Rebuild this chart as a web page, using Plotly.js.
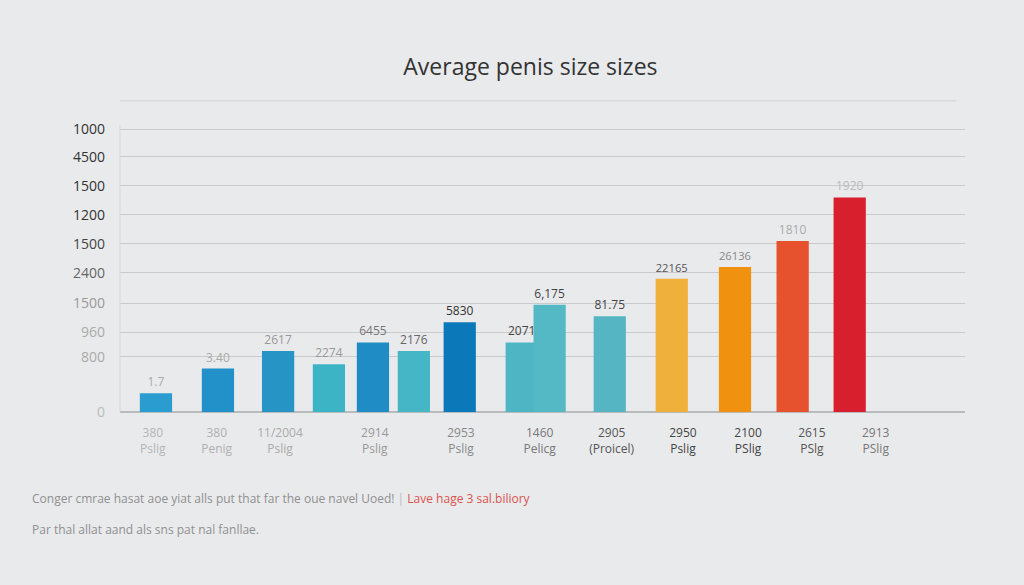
<!DOCTYPE html>
<html>
<head>
<meta charset="utf-8">
<script src="https://cdn.plot.ly/plotly-3.0.1.min.js"></script>
<style>
  html, body { margin: 0; padding: 0; background: #e9eaec; }
  #chart { width: 1024px; height: 585px; }
</style>
</head>
<body>
<div id="chart"></div>
<script>
// bar positions along the x axis and their heights (in grid steps)
const barX = [0, 1, 1.97, 2.79, 3.5, 4.16, 4.9, 5.9, 6.35, 7.32, 8.32, 9.34, 10.27, 11.19];
const barHeights = [0.65, 1.5, 2.1, 1.65, 2.4, 2.1, 3.1, 2.4, 3.7, 3.3, 4.6, 5.0, 5.9, 7.4];
const barLabels = ["1.7", "3.40", "2617", "2274", "6455", "2176", "5830", "2071", "6,175", "81.75", "22165", "26136", "1810", "1920"];
const barColors = ["#2b9ccf", "#2391c9", "#2794c6", "#3db3c6", "#1f8cc6", "#44b6c5", "#0b78b9",
                   "#4db5c3", "#55b9c5", "#55b5c3", "#f0b03c", "#f0920f", "#e6512e", "#d81f2d"];
const labelColors = ["#aaa", "#aaa", "#999", "#999", "#777", "#666", "#333", "#444", "#444", "#444", "#555", "#888", "#aaa", "#bbb"];

// group labels under the axis
const groupX = [-0.05, 0.98, 2.0, 3.53, 4.92, 6.19, 7.35, 8.5, 9.55, 10.58, 11.61];
const groupTop = ["380", "380", "11/2004", "2914", "2953", "1460", "2905", "2950", "2100", "2615", "2913"];
const groupBottom = ["Pslig", "Penig", "Pslig", "Pslig", "Pslig", "Pelicg", "(Proicel)", "Pslig", "PSlig", "PSlg", "PSlig"];
const groupColors = ["#b5b5b5", "#b0b0b0", "#aaa", "#999", "#888", "#777", "#555", "#444", "#444", "#555", "#777"];

// y axis: odd labels as printed, one per gridline
const yTickVals = [0, 1.9, 2.75, 3.75, 4.8, 5.8, 6.8, 7.8, 8.8, 9.75];
const yTickText = ["0", "800", "960", "1500", "2400", "1500", "1200", "1500", "4500", "1000"];
const yTickColors = ["#bbb", "#aaa", "#aaa", "#999", "#666", "#444", "#333", "#333", "#333", "#333"];

const trace = {
  type: 'bar',
  x: barX,
  y: barHeights,
  width: 0.52,
  marker: { color: barColors },
  text: barLabels,
  textposition: 'outside',
  cliponaxis: false,
  textfont: { family: 'Open Sans, sans-serif', size: 12, color: labelColors },
  hoverinfo: 'skip'
};

const layout = {
  width: 1024,
  height: 585,
  paper_bgcolor: '#e9eaec',
  plot_bgcolor: 'rgba(0,0,0,0)',
  margin: { l: 120, r: 59, t: 125, b: 173 },
  showlegend: false,
  title: {
    text: 'Average penis size sizes',
    x: 0.518, xanchor: 'center',
    y: 0.885, yanchor: 'middle',
    font: { family: 'Open Sans, sans-serif', size: 23, color: '#333' }
  },
  xaxis: {
    range: [-0.58, 13.05],
    tickvals: groupX,
    ticktext: groupTop.map((t, i) =>
      `<span style="color:${groupColors[i]}">${t}<br>${groupBottom[i]}</span>`),
    tickfont: { family: 'Open Sans, sans-serif', size: 12 },
    ticks: '',
    ticklabelstandoff: 12,
    showgrid: false,
    zeroline: false,
    showline: false
  },
  yaxis: {
    range: [0, 9.9],
    tickvals: yTickVals,
    ticktext: yTickText.map((t, i) => `<span style="color:${yTickColors[i]}">${t}</span>`),
    tickfont: { family: 'Open Sans, sans-serif', size: 14 },
    ticks: '',
    ticklabelstandoff: 14,
    showgrid: true,
    gridcolor: '#c9cacc',
    gridwidth: 1,
    zeroline: true,
    zerolinecolor: '#b9babc',
    zerolinewidth: 2,
    showline: false
  },
  shapes: [
    { type: 'line', xref: 'paper', yref: 'paper', x0: 0, x1: 0.99, y0: 1.084, y1: 1.084,
      line: { color: '#d0d1d3', width: 1 } },
    { type: 'line', xref: 'paper', yref: 'paper', x0: 0, x1: 0, y0: 0, y1: 1,
      line: { color: '#d6d7d9', width: 1 } }
  ],
  annotations: [
    { xref: 'paper', yref: 'paper', x: -0.107, y: -0.3, xanchor: 'left', yanchor: 'middle', showarrow: false,
      text: 'Conger cmrae hasat aoe yiat alls put that far the oue navel Uoed! <span style="color:#bbb">|</span> <span style="color:#d9544f">Lave hage 3 sal.biliory</span>',
      font: { family: 'Open Sans, sans-serif', size: 12, color: '#909090' } },
    { xref: 'paper', yref: 'paper', x: -0.107, y: -0.41, xanchor: 'left', yanchor: 'middle', showarrow: false,
      text: 'Par thal allat aand als sns pat nal fanllae.',
      font: { family: 'Open Sans, sans-serif', size: 12, color: '#909090' } }
  ]
};

Plotly.newPlot('chart', [trace], layout, { displayModeBar: false, staticPlot: true });
</script>
</body>
</html>
